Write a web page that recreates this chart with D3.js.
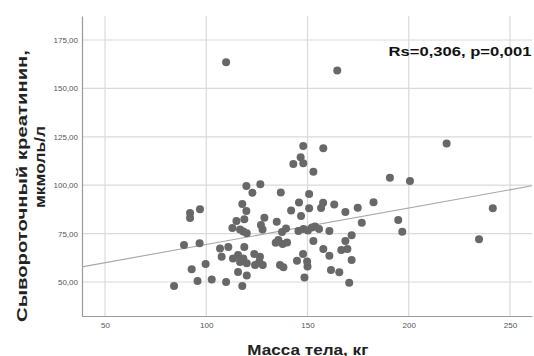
<!DOCTYPE html>
<html>
<head>
<meta charset="utf-8">
<script src="https://cdn.jsdelivr.net/npm/d3@7"></script>
<style>
  html, body { margin: 0; padding: 0; background: #fff; }
  svg { display: block; }
</style>
</head>
<body>
<svg id="chart" width="534" height="356"></svg>
<script>
// body mass, kg (x) and serum creatinine, umol/l (y)
var bodyMass = [
  109.8, 164.7, 147.9, 157.8, 146.6, 143.0, 147.9, 152.9, 119.8, 126.7,
  122.8, 136.8, 150.8, 117.8, 119.8, 145.8, 141.9, 150.8, 146.8, 157.7,
  156.7, 163.2, 168.7, 174.8, 182.6, 176.8, 114.9, 118.8, 112.9, 116.7,
  118.3, 120.0, 127.0, 128.7, 127.8, 134.8, 137.4, 139.4, 145.5, 148.0,
  150.2, 152.2, 153.7, 155.7, 160.8, 171.8, 168.7, 134.3, 135.6, 137.7,
  139.9, 152.9, 92.0, 92.0, 96.9, 89.0, 96.7, 106.8, 110.9, 118.8,
  107.6, 113.2, 115.7, 118.3, 120.0, 116.7, 123.7, 126.5, 124.1, 127.9,
  126.2, 157.8, 160.8, 166.7, 169.7, 171.8, 147.8, 144.8, 149.8, 150.0,
  136.4, 138.1, 99.7, 92.8, 115.7, 120.0, 161.6, 165.7, 148.5, 84.1,
  95.7, 102.7, 109.8, 117.8, 170.6, 190.7, 200.6, 218.7, 194.8, 196.8,
  241.5, 234.7
];
var creatinine = [
  163.5, 159.3, 120.2, 119.1, 114.4, 111.0, 111.3, 107.0, 99.6, 100.5,
  96.1, 96.2, 95.4, 90.3, 86.7, 91.1, 86.9, 88.1, 84.1, 91.0,
  88.2, 90.0, 86.2, 88.4, 91.2, 80.6, 81.5, 82.4, 77.9, 77.1,
  76.1, 75.2, 79.4, 83.2, 77.1, 81.1, 75.8, 77.7, 76.3, 77.4,
  76.6, 78.2, 78.7, 77.4, 76.3, 74.1, 71.2, 70.3, 71.7, 69.6,
  70.4, 71.2, 85.6, 83.1, 87.6, 69.1, 70.0, 67.3, 68.1, 68.1,
  63.1, 62.2, 63.9, 62.2, 59.7, 60.3, 64.5, 63.1, 58.8, 58.8,
  60.5, 67.0, 63.5, 66.5, 67.0, 61.4, 64.5, 61.0, 60.6, 58.0,
  58.8, 57.6, 59.3, 56.6, 55.2, 53.3, 56.2, 55.0, 52.3, 47.9,
  50.5, 51.3, 50.0, 47.9, 49.6, 103.9, 102.2, 121.6, 82.0, 76.0,
  88.1, 72.1
];
var xTicks = [50, 100, 150, 200, 250];
var yTicks = [50, 75, 100, 125, 150, 175];
var fitIntercept = 50.55, fitSlope = 0.1884;
var xTitle = "Масса тела, кг";
var yTitle = ["Сывороточный креатинин,", "мкмоль/л"];
var note = "Rs=0,306, p=0,001";

var svg = d3.select("#chart");
var plotL = 82, plotR = 532, plotT = 16, plotB = 316;

var x = d3.scaleLinear().domain([38.64, 260.86]).range([plotL, plotR]);
var y = d3.scaleLinear().domain([32.44, 187.4]).range([plotB, plotT]);

svg.append("rect").attr("width", 534).attr("height", 356).attr("fill", "#fff");

// grid
svg.append("g").selectAll("line").data(xTicks).enter().append("line")
  .attr("x1", d => x(d)).attr("x2", d => x(d))
  .attr("y1", plotT).attr("y2", plotB)
  .attr("stroke", "#dadada").attr("stroke-width", 1.2);
svg.append("g").selectAll("line").data(yTicks).enter().append("line")
  .attr("x1", plotL).attr("x2", plotR)
  .attr("y1", d => y(d)).attr("y2", d => y(d))
  .attr("stroke", "#dadada").attr("stroke-width", 1.2);

// axes
var fmtY = function(d) { return d3.format(".2f")(d).replace(".", ","); };
var gx = svg.append("g").attr("transform", "translate(0," + plotB + ")")
  .call(d3.axisBottom(x).tickValues(xTicks).tickSize(0).tickSizeOuter(0).tickPadding(6));
var gy = svg.append("g").attr("transform", "translate(" + plotL + ",0)")
  .call(d3.axisLeft(y).tickValues(yTicks).tickFormat(fmtY).tickSize(0).tickSizeOuter(0).tickPadding(4));
[gx, gy].forEach(function(g) {
  g.select(".domain").attr("stroke", "#9a9a9a").attr("stroke-width", 1.2);
  g.selectAll("text").attr("font-family", "Liberation Sans, Arial, sans-serif")
    .attr("font-size", 8).attr("fill", "#555");
});

// fit line
var xd = x.domain();
svg.append("line")
  .attr("x1", x(xd[0])).attr("y1", y(fitIntercept + fitSlope * xd[0]))
  .attr("x2", x(xd[1])).attr("y2", y(fitIntercept + fitSlope * xd[1]))
  .attr("stroke", "#a8a8a8").attr("stroke-width", 1.1);

// points
svg.append("g").selectAll("circle").data(d3.range(bodyMass.length)).enter().append("circle")
  .attr("cx", i => x(bodyMass[i])).attr("cy", i => y(creatinine[i]))
  .attr("r", 4).attr("fill", "#686868");

// titles
var bold = "Liberation Sans, Arial, sans-serif";
svg.append("text").attr("x", 307.8).attr("y", 354.5)
  .attr("text-anchor", "middle").attr("font-family", bold).attr("font-weight", "bold")
  .attr("font-size", 15.5).attr("fill", "#222")
  .attr("textLength", 121).attr("lengthAdjust", "spacingAndGlyphs")
  .text(xTitle);

var yCenters = [[21, 186, 272], [39.5, 167, 82]];
yTitle.forEach(function(t, i) {
  var c = yCenters[i];
  svg.append("text")
    .attr("transform", "translate(" + c[0] + "," + c[1] + ") rotate(-90)")
    .attr("text-anchor", "middle").attr("dominant-baseline", "central")
    .attr("font-family", bold).attr("font-weight", "bold")
    .attr("font-size", 15).attr("fill", "#222")
    .attr("textLength", c[2]).attr("lengthAdjust", "spacingAndGlyphs")
    .text(t);
});

svg.append("text").attr("x", 388.5).attr("y", 56)
  .attr("font-family", bold).attr("font-weight", "bold")
  .attr("font-size", 13.5).attr("fill", "#111")
  .attr("textLength", 143).attr("lengthAdjust", "spacingAndGlyphs")
  .text(note);
</script>
</body>
</html>
